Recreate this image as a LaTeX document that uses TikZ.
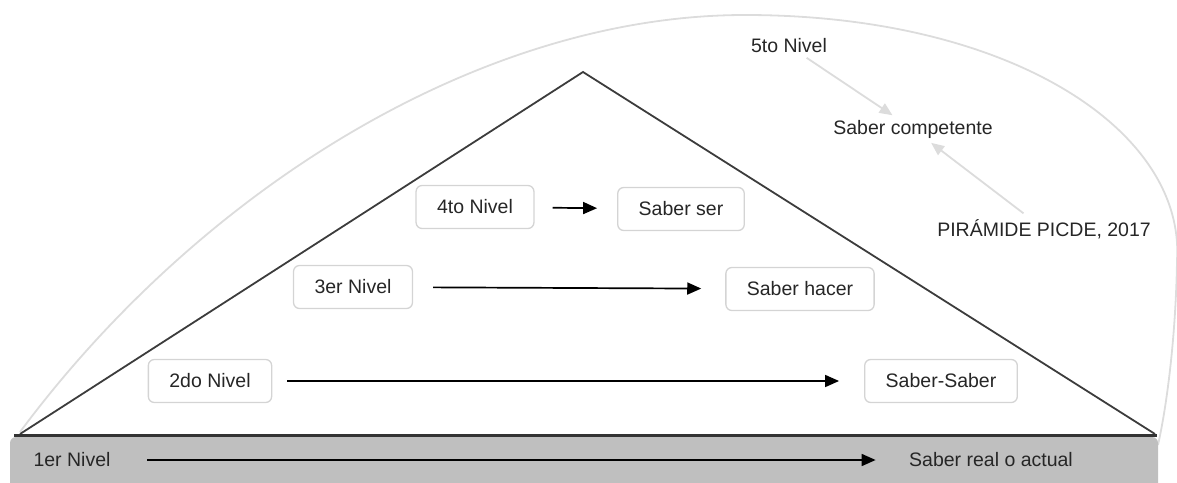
\documentclass[tikz,border=0pt]{standalone}
\usepackage{fontspec}
\setmainfont{Liberation Sans}
\usepackage{xcolor}
\usetikzlibrary{arrows.meta}
\definecolor{bandgray}{HTML}{BFBFBF}
\definecolor{boxgray}{HTML}{D4D4D4}
\definecolor{arcgray}{HTML}{DCDCDC}
\definecolor{edgegray}{HTML}{3C3C3C}

\tikzset{
    lvlbox/.style={draw=boxgray, line width=1.3pt, rounded corners=6pt, fill=white,
        minimum height=43pt, inner xsep=21pt, text=black!85},
    lvltext/.style={text=black!85},
    fwd/.style={line width=1.7pt, -{Triangle[length=14pt, width=12pt]}},
    lite/.style={draw=arcgray, line width=1.8pt, -{Triangle[length=13pt, width=11pt]}}
}

\begin{document}
\begin{tikzpicture}[x=1pt, y=-1pt, font=\fontsize{19.5}{23}\selectfont]
    \useasboundingbox (0, 0) rectangle (1177, 482);
    \clip (0, 0) rectangle (1177, 482);

    % outer curve
    \draw[arcgray, line width=1.8pt] (20, 432) .. controls (200, 190) and (480, 15) .. (745, 15)
        .. controls (1010, 15) and (1185, 130) .. (1177, 260)
        .. controls (1176, 330) and (1168, 400) .. (1158, 445);

    % base band
    \fill[bandgray, rounded corners=6pt] (10, 500) -- (10, 437) -- (1158, 437) -- (1158, 500);

    % pyramid
    \draw[edgegray, line width=1.8pt] (20, 434) -- (583, 72) -- (1155, 434);
    \draw[black!80, line width=2.4pt] (14, 435.5) -- (1157, 435.5);

    % levels
    \node[lvltext] (lvlone) at (72, 460) {1er Nivel};
    \node[lvltext] (sabreal) at (991, 460) {Saber real o actual};
    \node[lvlbox] (lvltwo) at (210, 381) {2do Nivel};
    \node[lvlbox] (sabsab) at (941, 381) {Saber-Saber};
    \node[lvlbox] (lvlthree) at (353, 287) {3er Nivel};
    \node[lvlbox] (sabhac) at (800, 289) {Saber hacer};
    \node[lvlbox] (lvlfour) at (475, 207) {4to Nivel};
    \node[lvlbox] (sabser) at (681, 209) {Saber ser};
    \node[lvltext] (lvlfive) at (789, 46) {5to Nivel};
    \node[lvltext] (sabcomp) at (913, 129) {Saber competente};
    \node[lvltext] (picde) at (1044, 229) {PIRÁMIDE PICDE, 2017};

    \draw[fwd, shorten <=33pt, shorten >=30pt] (lvlone) -- (sabreal);
    \draw[fwd, shorten <=15pt, shorten >=25pt] (lvltwo) -- (sabsab);
    \draw[fwd, shorten <=20pt, shorten >=24pt] (lvlthree) -- (sabhac);
    \draw[fwd, shorten <=18pt, shorten >=20pt] (lvlfour) -- (sabser);

    \draw[lite, shorten <=2pt, shorten >=2pt] (lvlfive) -- (sabcomp);
    \draw[lite, shorten <=4pt, shorten >=2pt] (picde) -- (sabcomp);
\end{tikzpicture}
\end{document}
